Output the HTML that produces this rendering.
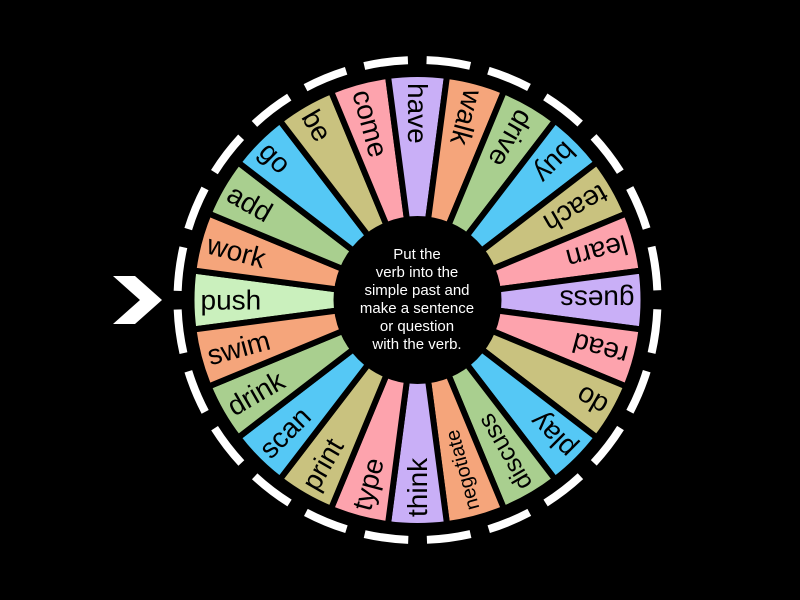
<!DOCTYPE html>
<html><head><meta charset="utf-8"><style>
html,body{margin:0;padding:0;background:#000;}
svg{display:block}
</style></head><body>
<svg width="800" height="600" viewBox="0 0 800 600" xmlns="http://www.w3.org/2000/svg">
<rect width="800" height="600" fill="#000"/>
<g id="wheel"></g>
<circle cx="417.5" cy="300" r="240" fill="none" stroke="#fff" stroke-width="8" pathLength="360" stroke-dasharray="10.5 4.5" stroke-dashoffset="-2.25"/>
<polygon points="113,276 135,276 162,300 135,324 113,324 140,300" fill="#fff"/>
<circle cx="417.5" cy="300" r="84" fill="#000"/>
<g fill="#fff" font-family="Liberation Sans, sans-serif" font-size="15" text-anchor="middle">
<text x="417" y="259">Put the</text>
<text x="417" y="277">verb into the</text>
<text x="417" y="295">simple past and</text>
<text x="417" y="313">make a sentence</text>
<text x="417" y="331">or question</text>
<text x="417" y="349">with the verb.</text>
</g>
<script>
(function(){
var words=["push","work","add","go","be","come","have","walk","drive","buy","teach","learn","guess","read","do","play","discuss","negotiate","think","type","print","scan","drink","swim"];
var O="#f5a57b",G="#a9cf8f",B="#55c8f5",K="#c9c27f",P="#fda3ad",U="#c9aff7",L="#caf0bd";
var cols=[L,O,G,B,K,P,U,O,G,B,K,P,U,P,K,B,G,O,U,P,K,B,G,O];
var cx=417.5,cy=300,R=226,ns="http://www.w3.org/2000/svg",g=document.getElementById("wheel");
for(var i=0;i<24;i++){
 var a=180+15*i,a1=(a-7.5)*Math.PI/180,a2=(a+7.5)*Math.PI/180;
 var p=document.createElementNS(ns,"path");
 p.setAttribute("d","M"+cx+","+cy+" L"+(cx+R*Math.cos(a1))+","+(cy+R*Math.sin(a1))+" A"+R+","+R+" 0 0 1 "+(cx+R*Math.cos(a2))+","+(cy+R*Math.sin(a2))+" Z");
 p.setAttribute("fill",cols[i]);p.setAttribute("stroke","#000");p.setAttribute("stroke-width","6");p.setAttribute("stroke-linejoin","round");
 g.appendChild(p);
 var t=document.createElementNS(ns,"text");
 t.setAttribute("x",cx-217);t.setAttribute("y",cy);
 t.setAttribute("dominant-baseline","central");
 t.setAttribute("font-family","Liberation Sans, sans-serif");
 var w=words[i];
 t.setAttribute("font-size",w=="negotiate"?"20":(w=="discuss"?"25":"28"));
 t.setAttribute("fill","#000");
 t.setAttribute("transform","rotate("+(a-180)+" "+cx+" "+cy+")");
 t.textContent=w;g.appendChild(t);
}
})();
</script>
</svg>
</body></html>
